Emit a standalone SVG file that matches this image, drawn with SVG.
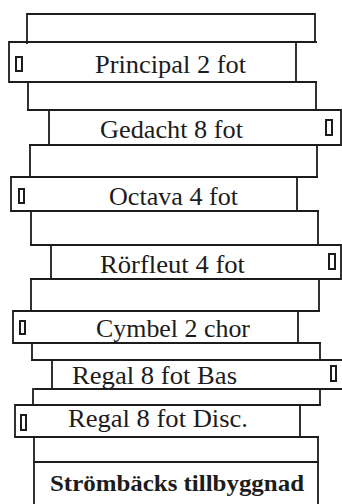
<svg xmlns="http://www.w3.org/2000/svg" width="342" height="504" viewBox="0 0 342 504">
<style>
.ln{fill:none;stroke:#1c1c1c;stroke-width:1.8;stroke-linecap:square}
.knob{fill:#fff;stroke:#1c1c1c;stroke-width:2}
.lbl{font-family:"Liberation Serif","Times New Roman",serif;font-size:26px;fill:#1c1c1c}
.bold{font-family:"Liberation Serif","Times New Roman",serif;font-size:24px;font-weight:bold;fill:#1c1c1c}
</style>
<rect width="342" height="504" fill="#fff"/>
<g id="frame" class="ln">
<path d="M27,43 V14 H315 V42"/>
<path d="M28,82 V110 M316,82 V110"/>
<path d="M30,145 V177 M317,145 V177"/>
<path d="M31,211 V245 M318,211 V245"/>
<path d="M31,279 V311 M319,279 V311"/>
<path d="M32,343 V360 M320,343 V358"/>
<path d="M33,389 V405 M320,389 V404"/>
<path d="M34,437 V504 M318,437 V504 M34,462 H318"/>
</g>
<g id="principal">
<path class="ln" d="M9,42 H316 M9,42 V82 H316 M296,42 V82"/>
<rect class="knob" x="16" y="57" width="6" height="14"/>
<text class="lbl" x="95" y="73" textLength="151" lengthAdjust="spacingAndGlyphs">Principal 2 fot</text>
</g>
<g id="gedacht">
<path class="ln" d="M28,110 H341 V145 H30 M49,110 V145"/>
<rect class="knob" x="326" y="120" width="6" height="15"/>
<text class="lbl" x="100" y="138" textLength="143" lengthAdjust="spacingAndGlyphs">Gedacht 8 fot</text>
</g>
<g id="octava">
<path class="ln" d="M11,177 H317 M11,177 V211 H318 M297,177 V211"/>
<rect class="knob" x="19" y="189" width="5" height="14"/>
<text class="lbl" x="109" y="205" textLength="129" lengthAdjust="spacingAndGlyphs">Octava 4 fot</text>
</g>
<g id="rorfleut">
<path class="ln" d="M31,245 H341 V279 H31 M51,245 V279"/>
<rect class="knob" x="329" y="254" width="6" height="15"/>
<text class="lbl" x="100" y="272.5" textLength="145" lengthAdjust="spacingAndGlyphs">Rörfleut 4 fot</text>
</g>
<g id="cymbel">
<path class="ln" d="M13,311 H319 M13,311 V343 H320 M298,311 V343"/>
<rect class="knob" x="20" y="321" width="5" height="13"/>
<text class="lbl" x="96" y="337" textLength="154" lengthAdjust="spacingAndGlyphs">Cymbel 2 chor</text>
</g>
<g id="regal-bas">
<path class="ln" d="M32,360 H342 M52,360 V389 M35,389 H342"/>
<rect class="knob" x="331" y="366" width="5" height="15"/>
<text class="lbl" x="72" y="384" textLength="165" lengthAdjust="spacingAndGlyphs">Regal 8 fot Bas</text>
</g>
<g id="regal-disc">
<path class="ln" d="M15,405 H320 M15,405 V437 H318 M300,405 V437"/>
<rect class="knob" x="21" y="415" width="5" height="15"/>
<text class="lbl" x="68" y="427" textLength="180" lengthAdjust="spacingAndGlyphs">Regal 8 fot Disc.</text>
</g>
<g id="strombacks">
<text class="bold" x="50" y="491" textLength="254" lengthAdjust="spacingAndGlyphs">Strömbäcks tillbyggnad</text>
</g>
</svg>
